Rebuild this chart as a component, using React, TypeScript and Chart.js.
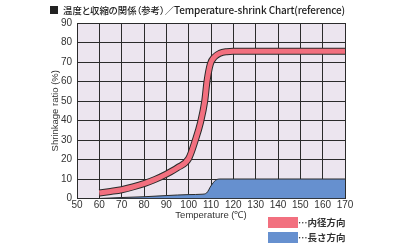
import React, { useEffect, useRef } from "react";
import { Chart, registerables } from "chart.js";

Chart.register(...registerables);

// Inner-diameter direction (内径方向) – temperature (°C) and shrinkage (%)
const innerTemps = [60, 65, 70, 75, 80, 85, 90, 95, 100, 103, 105.3, 107.2, 108.2, 109.7, 111.5, 114, 117, 120, 170];
const innerValues = [2.8, 3.6, 4.5, 5.9, 7.6, 9.8, 12.5, 15.8, 20.5, 30, 39, 50, 60, 69, 72.5, 74.5, 75.3, 75.5, 75.5];

// Length direction (長さ方向)
const lengthTemps = [60, 70, 80, 90, 100, 106, 108, 110, 112, 114, 120, 170];
const lengthValues = [0, 0.5, 0.9, 1.5, 2.0, 2.2, 2.8, 6.5, 9.3, 10, 10, 10];

const xMin = 50;
const xMax = 170;
const yMin = 0;
const yMax = 90;

const titleMark = "■";
const titleJa = "温度と収縮の関係（参考）／";
const titleEn = "Temperature-shrink Chart(reference)";
const xTitle = "Temperature (℃)";
const yTitle = "Shrinkage ratio (%)";
const legendLabels = ["…内径方向", "…長さ方向"];

const PINK = "#f2707f";
const BLUE = "#6690cf";
const OUTLINE = "#2b2b2b";
const PLOT_BG = "#ece5ef";
const TICK_FONT = "'Liberation Sans Narrow', 'Liberation Sans', Arial, sans-serif";

export default function App() {
  const canvasRef = useRef<HTMLCanvasElement | null>(null);

  useEffect(() => {
    const canvas = canvasRef.current;
    if (!canvas) return;
    const toPts = (xs: number[], ys: number[]) => xs.map((x, i) => ({ x, y: ys[i] }));
    const innerPts = toPts(innerTemps, innerValues);
    const lengthPts = toPts(lengthTemps, lengthValues);

    const bgPlugin = {
      id: "plotBg",
      beforeDraw(chart: any) {
        const { ctx, chartArea } = chart;
        ctx.save();
        ctx.fillStyle = PLOT_BG;
        ctx.fillRect(chartArea.left, chartArea.top, chartArea.right - chartArea.left, chartArea.bottom - chartArea.top);
        ctx.restore();
      },
    };

    const chart = new Chart(canvas, {
      type: "line",
      data: {
        datasets: [
          {
            label: "内径方向",
            data: innerPts,
            borderColor: PINK,
            borderWidth: 5,
            pointRadius: 0,
            cubicInterpolationMode: "monotone",
            fill: false,
            borderCapStyle: "butt",
          },
          {
            label: "内径方向 outline",
            data: innerPts,
            borderColor: OUTLINE,
            borderWidth: 7,
            pointRadius: 0,
            cubicInterpolationMode: "monotone",
            fill: false,
            borderCapStyle: "butt",
          },
          {
            label: "長さ方向",
            data: lengthPts,
            borderColor: OUTLINE,
            backgroundColor: BLUE,
            borderWidth: 1,
            pointRadius: 0,
            cubicInterpolationMode: "monotone",
            fill: "origin",
          },
        ],
      },
      options: {
        responsive: false,
        animation: false,
        events: [],
        layout: { padding: { left: 50, right: 55, top: 23, bottom: 27.5 } },
        plugins: { legend: { display: false }, tooltip: { enabled: false }, title: { display: false } },
        scales: {
          x: {
            type: "linear",
            min: xMin,
            max: xMax,
            afterFit: (s: any) => {
              s.height = 23;
            },
            ticks: { stepSize: 10, color: "#333", padding: 1, maxRotation: 0, font: { family: TICK_FONT, size: 10 } },
            grid: { color: OUTLINE, lineWidth: 1, drawTicks: false },
            border: { color: OUTLINE, width: 1 },
            title: { display: true, text: xTitle, color: "#333", padding: 0, font: { family: TICK_FONT, size: 9.5 } },
          },
          y: {
            type: "linear",
            min: yMin,
            max: yMax,
            afterFit: (s: any) => {
              s.width = 27;
            },
            ticks: { stepSize: 10, color: "#333", padding: 5, font: { family: TICK_FONT, size: 10 } },
            grid: { color: OUTLINE, lineWidth: 1, drawTicks: false },
            border: { color: OUTLINE, width: 1 },
            title: { display: true, text: yTitle, color: "#333", padding: 0, font: { family: TICK_FONT, size: 9.5 } },
          },
        },
      },
      plugins: [bgPlugin],
    } as any);

    return () => chart.destroy();
  }, []);

  const legendColors = [PINK, BLUE];

  return (
    <div style={{ position: "absolute", left: 0, top: 0, width: 400, height: 249, background: "#fff", overflow: "hidden" }}>
      <canvas ref={canvasRef} width={400} height={249} style={{ position: "absolute", left: 0, top: 0, width: 400, height: 249 }} />
      <div
        style={{
          position: "absolute",
          left: 49,
          top: 0,
          fontFamily: "'Noto Sans CJK JP', 'Noto Sans', sans-serif",
          lineHeight: "15px",
          color: "#222",
          whiteSpace: "nowrap",
          fontWeight: 500,
        }}
      >
        <span style={{ fontSize: 10, marginRight: 4 }}>{titleMark}</span>
        <span style={{ fontSize: 9.4, fontFeatureSettings: '"palt"' }}>{titleJa}</span>
        <span style={{ fontSize: 10, letterSpacing: -0.15 }}>{titleEn}</span>
      </div>
      {legendLabels.map((lab, i) => (
        <div key={lab} style={{ position: "absolute", left: 268, top: 216.5 + i * 15.6, height: 11, display: "flex", alignItems: "center" }}>
          <div style={{ width: 30, height: 11, background: legendColors[i] }} />
          <span
            style={{
              fontFamily: "'Noto Sans CJK JP', sans-serif",
              fontSize: 9.5,
              fontWeight: 700,
              color: "#333",
              whiteSpace: "nowrap",
              lineHeight: "11px",
            }}
          >
            {lab}
          </span>
        </div>
      ))}
    </div>
  );
}
